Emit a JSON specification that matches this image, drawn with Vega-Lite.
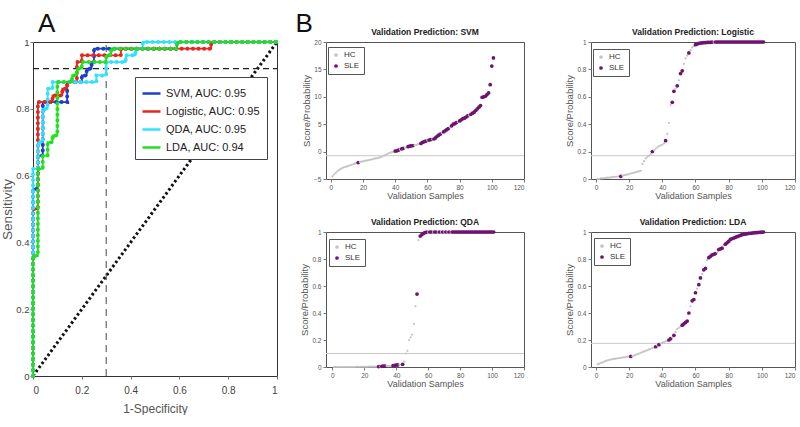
{
"$schema": "https://vega.github.io/schema/vega-lite/v6.json",
"background": "white",
"padding": {"left": 0, "top": 10, "right": 0, "bottom": 0},
"config": {
  "font": "Liberation Sans",
  "view": {"stroke": "#555", "strokeWidth": 1},
  "axis": {"grid": false, "domain": false, "ticks": true, "tickColor": "#777", "tickSize": 3, "labelColor": "#555", "titleColor": "#555", "labelFont": "Liberation Sans", "titleFont": "Liberation Sans", "labelFontSize": 6.5, "titleFontSize": 9, "titleFontWeight": "normal", "labelPadding": 2, "titlePadding": 1},
  "axisY": {"titleFontSize": 9.5, "titlePadding": 2},
  "title": {"font": "Liberation Sans", "fontSize": 8.5, "fontWeight": "bold", "color": "#222", "offset": 3}
},
"datasets": {
  "diag": [{"x": 0, "y": 0}, {"x": 1, "y": 1}],
  "hl": [{"x": 0, "y": 0.92}, {"x": 1, "y": 0.92}],
  "vl": [{"x": 0.3, "y": 0}, {"x": 0.3, "y": 1}],
  "roc": [
    {"m": "SVM, AUC: 0.95", "x": 0, "y": 0}, {"m": "SVM, AUC: 0.95", "x": 0, "y": 0.56}, {"m": "SVM, AUC: 0.95", "x": 0.02, "y": 0.56}, {"m": "SVM, AUC: 0.95", "x": 0.02, "y": 0.66}, {"m": "SVM, AUC: 0.95", "x": 0.04, "y": 0.66}, {"m": "SVM, AUC: 0.95", "x": 0.04, "y": 0.82}, {"m": "SVM, AUC: 0.95", "x": 0.14, "y": 0.82}, {"m": "SVM, AUC: 0.95", "x": 0.14, "y": 0.88}, {"m": "SVM, AUC: 0.95", "x": 0.2, "y": 0.88}, {"m": "SVM, AUC: 0.95", "x": 0.2, "y": 0.9}, {"m": "SVM, AUC: 0.95", "x": 0.22, "y": 0.9}, {"m": "SVM, AUC: 0.95", "x": 0.22, "y": 0.92}, {"m": "SVM, AUC: 0.95", "x": 0.24, "y": 0.92}, {"m": "SVM, AUC: 0.95", "x": 0.24, "y": 0.94}, {"m": "SVM, AUC: 0.95", "x": 0.25, "y": 0.94}, {"m": "SVM, AUC: 0.95", "x": 0.25, "y": 0.98}, {"m": "SVM, AUC: 0.95", "x": 0.59, "y": 0.98}, {"m": "SVM, AUC: 0.95", "x": 0.59, "y": 1}, {"m": "SVM, AUC: 0.95", "x": 1, "y": 1},
    {"m": "Logistic, AUC: 0.95", "x": 0, "y": 0}, {"m": "Logistic, AUC: 0.95", "x": 0, "y": 0.5}, {"m": "Logistic, AUC: 0.95", "x": 0.02, "y": 0.5}, {"m": "Logistic, AUC: 0.95", "x": 0.02, "y": 0.82}, {"m": "Logistic, AUC: 0.95", "x": 0.08, "y": 0.82}, {"m": "Logistic, AUC: 0.95", "x": 0.08, "y": 0.84}, {"m": "Logistic, AUC: 0.95", "x": 0.12, "y": 0.84}, {"m": "Logistic, AUC: 0.95", "x": 0.12, "y": 0.86}, {"m": "Logistic, AUC: 0.95", "x": 0.14, "y": 0.86}, {"m": "Logistic, AUC: 0.95", "x": 0.14, "y": 0.88}, {"m": "Logistic, AUC: 0.95", "x": 0.18, "y": 0.88}, {"m": "Logistic, AUC: 0.95", "x": 0.18, "y": 0.94}, {"m": "Logistic, AUC: 0.95", "x": 0.2, "y": 0.94}, {"m": "Logistic, AUC: 0.95", "x": 0.2, "y": 0.96}, {"m": "Logistic, AUC: 0.95", "x": 0.36, "y": 0.96}, {"m": "Logistic, AUC: 0.95", "x": 0.36, "y": 0.98}, {"m": "Logistic, AUC: 0.95", "x": 0.73, "y": 0.98}, {"m": "Logistic, AUC: 0.95", "x": 0.73, "y": 1}, {"m": "Logistic, AUC: 0.95", "x": 1, "y": 1},
    {"m": "QDA, AUC: 0.95", "x": 0, "y": 0}, {"m": "QDA, AUC: 0.95", "x": 0, "y": 0.62}, {"m": "QDA, AUC: 0.95", "x": 0.02, "y": 0.62}, {"m": "QDA, AUC: 0.95", "x": 0.02, "y": 0.7}, {"m": "QDA, AUC: 0.95", "x": 0.04, "y": 0.7}, {"m": "QDA, AUC: 0.95", "x": 0.04, "y": 0.8}, {"m": "QDA, AUC: 0.95", "x": 0.06, "y": 0.8}, {"m": "QDA, AUC: 0.95", "x": 0.06, "y": 0.86}, {"m": "QDA, AUC: 0.95", "x": 0.08, "y": 0.86}, {"m": "QDA, AUC: 0.95", "x": 0.08, "y": 0.88}, {"m": "QDA, AUC: 0.95", "x": 0.26, "y": 0.88}, {"m": "QDA, AUC: 0.95", "x": 0.26, "y": 0.9}, {"m": "QDA, AUC: 0.95", "x": 0.3, "y": 0.9}, {"m": "QDA, AUC: 0.95", "x": 0.3, "y": 0.94}, {"m": "QDA, AUC: 0.95", "x": 0.38, "y": 0.94}, {"m": "QDA, AUC: 0.95", "x": 0.38, "y": 0.96}, {"m": "QDA, AUC: 0.95", "x": 0.42, "y": 0.96}, {"m": "QDA, AUC: 0.95", "x": 0.42, "y": 0.98}, {"m": "QDA, AUC: 0.95", "x": 0.45, "y": 0.98}, {"m": "QDA, AUC: 0.95", "x": 0.45, "y": 1}, {"m": "QDA, AUC: 0.95", "x": 1, "y": 1},
    {"m": "LDA, AUC: 0.94", "x": 0, "y": 0}, {"m": "LDA, AUC: 0.94", "x": 0, "y": 0.36}, {"m": "LDA, AUC: 0.94", "x": 0.02, "y": 0.36}, {"m": "LDA, AUC: 0.94", "x": 0.02, "y": 0.62}, {"m": "LDA, AUC: 0.94", "x": 0.04, "y": 0.62}, {"m": "LDA, AUC: 0.94", "x": 0.04, "y": 0.66}, {"m": "LDA, AUC: 0.94", "x": 0.06, "y": 0.66}, {"m": "LDA, AUC: 0.94", "x": 0.06, "y": 0.7}, {"m": "LDA, AUC: 0.94", "x": 0.08, "y": 0.7}, {"m": "LDA, AUC: 0.94", "x": 0.08, "y": 0.72}, {"m": "LDA, AUC: 0.94", "x": 0.1, "y": 0.72}, {"m": "LDA, AUC: 0.94", "x": 0.1, "y": 0.88}, {"m": "LDA, AUC: 0.94", "x": 0.16, "y": 0.88}, {"m": "LDA, AUC: 0.94", "x": 0.16, "y": 0.9}, {"m": "LDA, AUC: 0.94", "x": 0.18, "y": 0.9}, {"m": "LDA, AUC: 0.94", "x": 0.18, "y": 0.92}, {"m": "LDA, AUC: 0.94", "x": 0.2, "y": 0.92}, {"m": "LDA, AUC: 0.94", "x": 0.2, "y": 0.94}, {"m": "LDA, AUC: 0.94", "x": 0.3, "y": 0.94}, {"m": "LDA, AUC: 0.94", "x": 0.3, "y": 0.96}, {"m": "LDA, AUC: 0.94", "x": 0.32, "y": 0.96}, {"m": "LDA, AUC: 0.94", "x": 0.32, "y": 0.98}, {"m": "LDA, AUC: 0.94", "x": 0.59, "y": 0.98}, {"m": "LDA, AUC: 0.94", "x": 0.59, "y": 1}, {"m": "LDA, AUC: 0.94", "x": 1, "y": 1}
  ],
  "svm": [
    {"i":1,"y":-4.5,"c":"HC"},{"i":2,"y":-4.2,"c":"HC"},{"i":3,"y":-3.9,"c":"HC"},{"i":4,"y":-3.6,"c":"HC"},{"i":5,"y":-3.4,"c":"HC"},{"i":6,"y":-3.2,"c":"HC"},{"i":7,"y":-3.0,"c":"HC"},{"i":8,"y":-2.9,"c":"HC"},{"i":9,"y":-2.8,"c":"HC"},{"i":10,"y":-2.7,"c":"HC"},
    {"i":11,"y":-2.6,"c":"HC"},{"i":12,"y":-2.5,"c":"HC"},{"i":13,"y":-2.4,"c":"HC"},{"i":14,"y":-2.3,"c":"HC"},{"i":15,"y":-2.2,"c":"HC"},{"i":16,"y":-2.1,"c":"HC"},{"i":17,"y":-2.0,"c":"SLE"},{"i":18,"y":-1.9,"c":"HC"},{"i":19,"y":-1.85,"c":"HC"},{"i":20,"y":-1.8,"c":"HC"},
    {"i":21,"y":-1.7,"c":"HC"},{"i":22,"y":-1.65,"c":"HC"},{"i":23,"y":-1.6,"c":"HC"},{"i":24,"y":-1.5,"c":"HC"},{"i":25,"y":-1.45,"c":"HC"},{"i":26,"y":-1.4,"c":"HC"},{"i":27,"y":-1.3,"c":"HC"},{"i":28,"y":-1.25,"c":"HC"},{"i":29,"y":-1.2,"c":"HC"},{"i":30,"y":-1.1,"c":"HC"},
    {"i":31,"y":-1.0,"c":"HC"},{"i":32,"y":-0.9,"c":"HC"},{"i":33,"y":-0.75,"c":"HC"},{"i":34,"y":-0.6,"c":"HC"},{"i":35,"y":-0.45,"c":"HC"},{"i":36,"y":-0.3,"c":"HC"},{"i":37,"y":-0.2,"c":"HC"},{"i":38,"y":-0.1,"c":"HC"},{"i":39,"y":0.0,"c":"HC"},{"i":40,"y":0.1,"c":"SLE"},
    {"i":41,"y":0.15,"c":"SLE"},{"i":42,"y":0.25,"c":"SLE"},{"i":43,"y":0.35,"c":"HC"},{"i":44,"y":0.5,"c":"SLE"},{"i":45,"y":0.6,"c":"SLE"},{"i":46,"y":0.7,"c":"HC"},{"i":47,"y":0.8,"c":"HC"},{"i":48,"y":0.9,"c":"SLE"},{"i":49,"y":1.0,"c":"SLE"},{"i":50,"y":1.05,"c":"SLE"},
    {"i":51,"y":1.1,"c":"SLE"},{"i":52,"y":1.15,"c":"HC"},{"i":53,"y":1.2,"c":"HC"},{"i":54,"y":1.3,"c":"HC"},{"i":55,"y":1.4,"c":"HC"},{"i":56,"y":1.5,"c":"SLE"},{"i":57,"y":1.7,"c":"SLE"},{"i":58,"y":1.8,"c":"SLE"},{"i":59,"y":1.9,"c":"SLE"},{"i":60,"y":2.0,"c":"HC"},
    {"i":61,"y":2.1,"c":"SLE"},{"i":62,"y":2.2,"c":"SLE"},{"i":63,"y":2.25,"c":"HC"},{"i":64,"y":2.3,"c":"SLE"},{"i":65,"y":2.5,"c":"SLE"},{"i":66,"y":2.8,"c":"SLE"},{"i":67,"y":3.0,"c":"SLE"},{"i":68,"y":3.2,"c":"SLE"},{"i":69,"y":3.4,"c":"HC"},{"i":70,"y":3.6,"c":"SLE"},
    {"i":71,"y":3.8,"c":"SLE"},{"i":72,"y":4.0,"c":"SLE"},{"i":73,"y":4.2,"c":"SLE"},{"i":74,"y":4.4,"c":"HC"},{"i":75,"y":4.7,"c":"SLE"},{"i":76,"y":5.0,"c":"SLE"},{"i":77,"y":5.1,"c":"SLE"},{"i":78,"y":5.3,"c":"SLE"},{"i":79,"y":5.4,"c":"HC"},{"i":80,"y":5.6,"c":"SLE"},
    {"i":81,"y":5.8,"c":"SLE"},{"i":82,"y":6.0,"c":"SLE"},{"i":83,"y":6.1,"c":"SLE"},{"i":84,"y":6.3,"c":"SLE"},{"i":85,"y":6.5,"c":"SLE"},{"i":86,"y":6.6,"c":"HC"},{"i":87,"y":6.8,"c":"SLE"},{"i":88,"y":7.0,"c":"SLE"},{"i":89,"y":7.2,"c":"SLE"},{"i":90,"y":7.5,"c":"SLE"},
    {"i":91,"y":7.8,"c":"SLE"},{"i":92,"y":8.1,"c":"SLE"},{"i":93,"y":8.4,"c":"SLE"},{"i":94,"y":9.9,"c":"SLE"},{"i":95,"y":10.0,"c":"SLE"},{"i":96,"y":10.1,"c":"SLE"},{"i":97,"y":10.4,"c":"SLE"},{"i":98,"y":10.7,"c":"SLE"},{"i":99,"y":12.2,"c":"SLE"},{"i":100,"y":15.6,"c":"SLE"},
    {"i":101,"y":17.1,"c":"SLE"}
  ],
  "log": [
    {"i":1,"y":0.0,"c":"HC"},{"i":2,"y":0.0,"c":"HC"},{"i":3,"y":0.005,"c":"HC"},{"i":4,"y":0.005,"c":"HC"},{"i":5,"y":0.007,"c":"HC"},{"i":6,"y":0.008,"c":"HC"},{"i":7,"y":0.01,"c":"HC"},{"i":8,"y":0.01,"c":"HC"},{"i":9,"y":0.012,"c":"HC"},{"i":10,"y":0.013,"c":"HC"},
    {"i":11,"y":0.015,"c":"HC"},{"i":12,"y":0.016,"c":"HC"},{"i":13,"y":0.018,"c":"HC"},{"i":14,"y":0.02,"c":"HC"},{"i":15,"y":0.02,"c":"SLE"},{"i":16,"y":0.025,"c":"HC"},{"i":17,"y":0.028,"c":"HC"},{"i":18,"y":0.03,"c":"HC"},{"i":19,"y":0.033,"c":"HC"},{"i":20,"y":0.036,"c":"HC"},
    {"i":21,"y":0.04,"c":"HC"},{"i":22,"y":0.043,"c":"HC"},{"i":23,"y":0.046,"c":"HC"},{"i":24,"y":0.05,"c":"HC"},{"i":25,"y":0.053,"c":"HC"},{"i":26,"y":0.056,"c":"HC"},{"i":27,"y":0.06,"c":"HC"},{"i":28,"y":0.11,"c":"HC"},{"i":29,"y":0.13,"c":"HC"},{"i":30,"y":0.15,"c":"HC"},
    {"i":31,"y":0.16,"c":"HC"},{"i":32,"y":0.17,"c":"HC"},{"i":33,"y":0.18,"c":"HC"},{"i":34,"y":0.2,"c":"SLE"},{"i":35,"y":0.21,"c":"HC"},{"i":36,"y":0.22,"c":"HC"},{"i":37,"y":0.23,"c":"HC"},{"i":38,"y":0.24,"c":"HC"},{"i":39,"y":0.245,"c":"HC"},{"i":40,"y":0.25,"c":"HC"},
    {"i":41,"y":0.26,"c":"HC"},{"i":42,"y":0.28,"c":"SLE"},{"i":43,"y":0.33,"c":"HC"},{"i":44,"y":0.41,"c":"HC"},{"i":45,"y":0.54,"c":"HC"},{"i":46,"y":0.56,"c":"SLE"},{"i":47,"y":0.64,"c":"SLE"},{"i":48,"y":0.66,"c":"HC"},{"i":49,"y":0.68,"c":"SLE"},{"i":50,"y":0.72,"c":"HC"},
    {"i":51,"y":0.77,"c":"SLE"},{"i":52,"y":0.79,"c":"SLE"},{"i":53,"y":0.84,"c":"HC"},{"i":54,"y":0.88,"c":"HC"},{"i":55,"y":0.9,"c":"HC"},{"i":56,"y":0.92,"c":"SLE"},{"i":57,"y":0.94,"c":"HC"},{"i":58,"y":0.96,"c":"HC"},{"i":59,"y":0.97,"c":"HC"},{"i":60,"y":0.98,"c":"SLE"},
    {"i":61,"y":0.985,"c":"SLE"},{"i":62,"y":0.99,"c":"SLE"},{"i":63,"y":0.992,"c":"SLE"},{"i":64,"y":0.994,"c":"SLE"},{"i":65,"y":0.995,"c":"SLE"},{"i":66,"y":0.996,"c":"SLE"},{"i":67,"y":0.997,"c":"SLE"},{"i":68,"y":0.998,"c":"SLE"},{"i":69,"y":0.998,"c":"SLE"},{"i":70,"y":0.999,"c":"SLE"},
    {"i":71,"y":0.999,"c":"HC"},{"i":72,"y":1,"c":"SLE"},{"i":73,"y":1,"c":"SLE"},{"i":74,"y":1,"c":"SLE"},{"i":75,"y":1,"c":"SLE"},{"i":76,"y":1,"c":"SLE"},{"i":77,"y":1,"c":"SLE"},{"i":78,"y":1,"c":"SLE"},{"i":79,"y":1,"c":"SLE"},{"i":80,"y":1,"c":"SLE"},
    {"i":81,"y":1,"c":"SLE"},{"i":82,"y":1,"c":"SLE"},{"i":83,"y":1,"c":"SLE"},{"i":84,"y":1,"c":"SLE"},{"i":85,"y":1,"c":"SLE"},{"i":86,"y":1,"c":"SLE"},{"i":87,"y":1,"c":"SLE"},{"i":88,"y":1,"c":"SLE"},{"i":89,"y":1,"c":"SLE"},{"i":90,"y":1,"c":"SLE"},
    {"i":91,"y":1,"c":"SLE"},{"i":92,"y":1,"c":"SLE"},{"i":93,"y":1,"c":"SLE"},{"i":94,"y":1,"c":"SLE"},{"i":95,"y":1,"c":"SLE"},{"i":96,"y":1,"c":"SLE"},{"i":97,"y":1,"c":"SLE"},{"i":98,"y":1,"c":"SLE"},{"i":99,"y":1,"c":"SLE"},{"i":100,"y":1,"c":"SLE"},
    {"i":101,"y":1,"c":"SLE"}
  ],
  "qda": [
    {"i":1,"y":0.0,"c":"HC"},{"i":2,"y":0.0,"c":"HC"},{"i":3,"y":0.0,"c":"HC"},{"i":4,"y":0.0,"c":"HC"},{"i":5,"y":0.0,"c":"HC"},{"i":6,"y":0.0,"c":"HC"},{"i":7,"y":0.0,"c":"HC"},{"i":8,"y":0.0,"c":"HC"},{"i":9,"y":0.0,"c":"HC"},{"i":10,"y":0.0,"c":"HC"},
    {"i":11,"y":0.0,"c":"HC"},{"i":12,"y":0.0,"c":"HC"},{"i":13,"y":0.0,"c":"HC"},{"i":14,"y":0.0,"c":"HC"},{"i":15,"y":0.001,"c":"HC"},{"i":16,"y":0.001,"c":"HC"},{"i":17,"y":0.001,"c":"HC"},{"i":18,"y":0.001,"c":"HC"},{"i":19,"y":0.001,"c":"HC"},{"i":20,"y":0.001,"c":"HC"},
    {"i":21,"y":0.001,"c":"HC"},{"i":22,"y":0.001,"c":"HC"},{"i":23,"y":0.002,"c":"HC"},{"i":24,"y":0.002,"c":"HC"},{"i":25,"y":0.002,"c":"HC"},{"i":26,"y":0.002,"c":"HC"},{"i":27,"y":0.002,"c":"HC"},{"i":28,"y":0.002,"c":"HC"},{"i":29,"y":0.003,"c":"SLE"},{"i":30,"y":0.003,"c":"HC"},
    {"i":31,"y":0.005,"c":"SLE"},{"i":32,"y":0.006,"c":"SLE"},{"i":33,"y":0.007,"c":"SLE"},{"i":34,"y":0.008,"c":"HC"},{"i":35,"y":0.008,"c":"HC"},{"i":36,"y":0.008,"c":"HC"},{"i":37,"y":0.009,"c":"HC"},{"i":38,"y":0.01,"c":"SLE"},{"i":39,"y":0.012,"c":"SLE"},{"i":40,"y":0.013,"c":"SLE"},
    {"i":41,"y":0.015,"c":"SLE"},{"i":42,"y":0.016,"c":"HC"},{"i":43,"y":0.018,"c":"HC"},{"i":44,"y":0.02,"c":"SLE"},{"i":45,"y":0.04,"c":"HC"},{"i":46,"y":0.1,"c":"HC"},{"i":47,"y":0.12,"c":"HC"},{"i":48,"y":0.2,"c":"HC"},{"i":49,"y":0.22,"c":"HC"},{"i":50,"y":0.24,"c":"HC"},
    {"i":51,"y":0.32,"c":"HC"},{"i":52,"y":0.45,"c":"HC"},{"i":53,"y":0.54,"c":"SLE"},{"i":54,"y":0.94,"c":"HC"},{"i":55,"y":0.97,"c":"SLE"},{"i":56,"y":0.98,"c":"SLE"},{"i":57,"y":0.99,"c":"SLE"},{"i":58,"y":0.995,"c":"SLE"},{"i":59,"y":1,"c":"SLE"},{"i":60,"y":1,"c":"HC"},
    {"i":61,"y":1,"c":"SLE"},{"i":62,"y":1,"c":"SLE"},{"i":63,"y":1,"c":"HC"},{"i":64,"y":1,"c":"SLE"},{"i":65,"y":1,"c":"SLE"},{"i":66,"y":1,"c":"HC"},{"i":67,"y":1,"c":"SLE"},{"i":68,"y":1,"c":"HC"},{"i":69,"y":1,"c":"SLE"},{"i":70,"y":1,"c":"HC"},
    {"i":71,"y":1,"c":"SLE"},{"i":72,"y":1,"c":"HC"},{"i":73,"y":1,"c":"SLE"},{"i":74,"y":1,"c":"HC"},{"i":75,"y":1,"c":"SLE"},{"i":76,"y":1,"c":"SLE"},{"i":77,"y":1,"c":"SLE"},{"i":78,"y":1,"c":"SLE"},{"i":79,"y":1,"c":"SLE"},{"i":80,"y":1,"c":"SLE"},
    {"i":81,"y":1,"c":"SLE"},{"i":82,"y":1,"c":"SLE"},{"i":83,"y":1,"c":"SLE"},{"i":84,"y":1,"c":"SLE"},{"i":85,"y":1,"c":"SLE"},{"i":86,"y":1,"c":"SLE"},{"i":87,"y":1,"c":"SLE"},{"i":88,"y":1,"c":"SLE"},{"i":89,"y":1,"c":"SLE"},{"i":90,"y":1,"c":"SLE"},
    {"i":91,"y":1,"c":"SLE"},{"i":92,"y":1,"c":"SLE"},{"i":93,"y":1,"c":"SLE"},{"i":94,"y":1,"c":"SLE"},{"i":95,"y":1,"c":"SLE"},{"i":96,"y":1,"c":"SLE"},{"i":97,"y":1,"c":"SLE"},{"i":98,"y":1,"c":"SLE"},{"i":99,"y":1,"c":"SLE"},{"i":100,"y":1,"c":"SLE"},
    {"i":101,"y":1,"c":"SLE"}
  ],
  "lda": [
    {"i":1,"y":0.02,"c":"HC"},{"i":2,"y":0.025,"c":"HC"},{"i":3,"y":0.03,"c":"HC"},{"i":4,"y":0.035,"c":"HC"},{"i":5,"y":0.04,"c":"HC"},{"i":6,"y":0.045,"c":"HC"},{"i":7,"y":0.05,"c":"HC"},{"i":8,"y":0.052,"c":"HC"},{"i":9,"y":0.055,"c":"HC"},{"i":10,"y":0.058,"c":"HC"},
    {"i":11,"y":0.06,"c":"HC"},{"i":12,"y":0.062,"c":"HC"},{"i":13,"y":0.064,"c":"HC"},{"i":14,"y":0.066,"c":"HC"},{"i":15,"y":0.068,"c":"HC"},{"i":16,"y":0.07,"c":"HC"},{"i":17,"y":0.072,"c":"HC"},{"i":18,"y":0.074,"c":"HC"},{"i":19,"y":0.076,"c":"HC"},{"i":20,"y":0.077,"c":"HC"},
    {"i":21,"y":0.078,"c":"SLE"},{"i":22,"y":0.08,"c":"HC"},{"i":23,"y":0.085,"c":"HC"},{"i":24,"y":0.09,"c":"HC"},{"i":25,"y":0.095,"c":"HC"},{"i":26,"y":0.1,"c":"HC"},{"i":27,"y":0.105,"c":"HC"},{"i":28,"y":0.11,"c":"HC"},{"i":29,"y":0.115,"c":"HC"},{"i":30,"y":0.12,"c":"HC"},
    {"i":31,"y":0.125,"c":"HC"},{"i":32,"y":0.13,"c":"HC"},{"i":33,"y":0.135,"c":"HC"},{"i":34,"y":0.14,"c":"HC"},{"i":35,"y":0.145,"c":"HC"},{"i":36,"y":0.15,"c":"SLE"},{"i":37,"y":0.16,"c":"HC"},{"i":38,"y":0.165,"c":"SLE"},{"i":39,"y":0.175,"c":"HC"},{"i":40,"y":0.18,"c":"HC"},
    {"i":41,"y":0.185,"c":"HC"},{"i":42,"y":0.19,"c":"HC"},{"i":43,"y":0.195,"c":"HC"},{"i":44,"y":0.2,"c":"SLE"},{"i":45,"y":0.21,"c":"SLE"},{"i":46,"y":0.22,"c":"HC"},{"i":47,"y":0.235,"c":"SLE"},{"i":48,"y":0.26,"c":"HC"},{"i":49,"y":0.28,"c":"HC"},{"i":50,"y":0.29,"c":"HC"},
    {"i":51,"y":0.3,"c":"HC"},{"i":52,"y":0.31,"c":"SLE"},{"i":53,"y":0.32,"c":"SLE"},{"i":54,"y":0.33,"c":"SLE"},{"i":55,"y":0.34,"c":"SLE"},{"i":56,"y":0.4,"c":"SLE"},{"i":57,"y":0.45,"c":"HC"},{"i":58,"y":0.49,"c":"SLE"},{"i":59,"y":0.5,"c":"SLE"},{"i":60,"y":0.55,"c":"SLE"},
    {"i":61,"y":0.58,"c":"HC"},{"i":62,"y":0.61,"c":"SLE"},{"i":63,"y":0.66,"c":"SLE"},{"i":64,"y":0.69,"c":"HC"},{"i":65,"y":0.72,"c":"SLE"},{"i":66,"y":0.73,"c":"SLE"},{"i":67,"y":0.79,"c":"HC"},{"i":68,"y":0.81,"c":"SLE"},{"i":69,"y":0.82,"c":"SLE"},{"i":70,"y":0.83,"c":"SLE"},
    {"i":71,"y":0.835,"c":"SLE"},{"i":72,"y":0.84,"c":"SLE"},{"i":73,"y":0.85,"c":"HC"},{"i":74,"y":0.87,"c":"SLE"},{"i":75,"y":0.875,"c":"SLE"},{"i":76,"y":0.88,"c":"SLE"},{"i":77,"y":0.9,"c":"HC"},{"i":78,"y":0.91,"c":"SLE"},{"i":79,"y":0.92,"c":"SLE"},{"i":80,"y":0.93,"c":"SLE"},
    {"i":81,"y":0.945,"c":"SLE"},{"i":82,"y":0.95,"c":"SLE"},{"i":83,"y":0.955,"c":"SLE"},{"i":84,"y":0.96,"c":"SLE"},{"i":85,"y":0.965,"c":"SLE"},{"i":86,"y":0.97,"c":"SLE"},{"i":87,"y":0.975,"c":"SLE"},{"i":88,"y":0.98,"c":"SLE"},{"i":89,"y":0.983,"c":"SLE"},{"i":90,"y":0.985,"c":"SLE"},
    {"i":91,"y":0.987,"c":"SLE"},{"i":92,"y":0.99,"c":"SLE"},{"i":93,"y":0.99,"c":"SLE"},{"i":94,"y":0.992,"c":"SLE"},{"i":95,"y":0.994,"c":"SLE"},{"i":96,"y":0.995,"c":"SLE"},{"i":97,"y":0.996,"c":"SLE"},{"i":98,"y":0.997,"c":"SLE"},{"i":99,"y":0.998,"c":"SLE"},{"i":100,"y":0.999,"c":"SLE"},
    {"i":101,"y":1.0,"c":"SLE"}
  ]
},
"hconcat": [
  {
    "title": {"text": "A", "font": "Liberation Sans", "fontSize": 26, "fontWeight": "normal", "color": "#111", "anchor": "start", "frame": "group", "dx": 5, "offset": -3},
    "width": 244, "height": 334,
    "view": {"stroke": "#333"},
    "encoding": {
      "x": {"field": "x", "type": "quantitative", "scale": {"domain": [0, 1], "nice": false}, "axis": {"title": "1-Specificity", "values": [0, 0.2, 0.4, 0.6, 0.8, 1], "format": "~g", "labelFontSize": 10, "titleFontSize": 12, "labelPadding": 6, "titlePadding": 8, "labelColor": "#444", "titleColor": "#555"}},
      "y": {"field": "y", "type": "quantitative", "scale": {"domain": [0, 1], "nice": false}, "axis": {"title": "Sensitivity", "values": [0, 0.2, 0.4, 0.6, 0.8, 1], "format": "~g", "labelFontSize": 9.5, "titleFontSize": 13.5, "labelPadding": 1, "titlePadding": 1, "labelColor": "#444", "titleColor": "#555"}}
    },
    "layer": [
      {"data": {"name": "diag"}, "mark": {"type": "line", "color": "#111", "strokeWidth": 3, "strokeDash": [2.5, 2.5]}},
      {"data": {"name": "hl"}, "mark": {"type": "line", "color": "#222", "strokeWidth": 1.2, "strokeDash": [6, 4]}},
      {"data": {"name": "vl"}, "mark": {"type": "line", "color": "#444", "strokeWidth": 1, "strokeDash": [7, 5]}},
      {"data": {"name": "roc"}, "mark": {"type": "line", "strokeWidth": 1.8},
       "encoding": {"order": {"value": null},
         "color": {"field": "m", "type": "nominal", "scale": {"domain": ["SVM, AUC: 0.95", "Logistic, AUC: 0.95", "QDA, AUC: 0.95", "LDA, AUC: 0.94"], "range": ["#1c3fc8", "#e8261e", "#33e0ff", "#22e022"]},
           "legend": {"orient": "none", "legendX": 102, "legendY": 35, "title": null, "strokeColor": "#444", "fillColor": "white", "padding": 6, "labelFontSize": 11, "labelFont": "Liberation Sans", "labelColor": "#222", "symbolType": "stroke", "symbolStrokeWidth": 2.5, "symbolSize": 324, "rowPadding": 2, "labelOffset": 4}}}},
      {"data": {"name": "roc"}, "mark": {"type": "line", "strokeWidth": 4, "strokeDash": [0.1, 5.5], "strokeCap": "round"},
       "encoding": {"order": {"value": null},
         "color": {"field": "m", "type": "nominal"}}}
    ]
  },
  {
    "title": {"text": "B", "font": "Liberation Sans", "fontSize": 26, "fontWeight": "normal", "color": "#111", "anchor": "start", "dx": -4, "dy": 6, "offset": -4},
    "spacing": 16,
    "resolve": {"scale": {"color": "independent"}, "legend": {"color": "independent"}},
    "vconcat": [
      {
        "spacing": 39,
        "resolve": {"scale": {"color": "independent"}, "legend": {"color": "independent"}},
        "hconcat": [
          {
            "width": 198, "height": 137,
            "title": "Validation Prediction: SVM",
            "encoding": {"y": {"field": "y", "type": "quantitative", "scale": {"domain": [-5, 20], "nice": false, "zero": false}, "axis": {"title": "Score/Probability", "values": [-5, 0, 5, 10, 15, 20]}}},
            "layer": [
              {"data": {"values": [{"y": -0.75}]}, "mark": {"type": "rule", "color": "#c8c8c8", "strokeWidth": 1}},
              {"data": {"name": "svm"}, "mark": {"type": "circle", "opacity": 1},
               "encoding": {
                 "x": {"field": "i", "type": "quantitative", "scale": {"domain": [-3, 120], "nice": false, "zero": false}, "axis": {"title": "Validation Samples", "values": [0, 20, 40, 60, 80, 100, 120]}},
                 "color": {"field": "c", "type": "nominal", "scale": {"domain": ["HC", "SLE"], "range": ["#c4c4c4", "#6e1470"]}, "legend": {"orient": "none", "legendX": 2, "legendY": 5, "title": null, "strokeColor": "#555", "fillColor": "white", "padding": 4, "labelFontSize": 8, "labelFont": "Liberation Sans", "labelColor": "#333", "symbolSize": 14, "symbolType": "circle", "rowPadding": 3}},
                 "size": {"condition": {"test": "datum.c === 'SLE'", "value": 14}, "value": 5}
               }}
            ]
          },
          {
            "width": 204, "height": 137,
            "title": "Validation Prediction: Logistic",
            "encoding": {"y": {"field": "y", "type": "quantitative", "scale": {"domain": [0, 1], "nice": false}, "axis": {"title": "Score/Probability", "values": [0, 0.2, 0.4, 0.6, 0.8, 1], "format": "~g"}}},
            "layer": [
              {"data": {"values": [{"y": 0.17}]}, "mark": {"type": "rule", "color": "#c8c8c8", "strokeWidth": 1}},
              {"data": {"name": "log"}, "mark": {"type": "circle", "opacity": 1},
               "encoding": {
                 "x": {"field": "i", "type": "quantitative", "scale": {"domain": [-3, 120], "nice": false, "zero": false}, "axis": {"title": "Validation Samples", "values": [0, 20, 40, 60, 80, 100, 120], "labelFlush": true}},
                 "color": {"field": "c", "type": "nominal", "scale": {"domain": ["HC", "SLE"], "range": ["#c4c4c4", "#6e1470"]}, "legend": {"orient": "none", "legendX": 2, "legendY": 7, "title": null, "strokeColor": "#555", "fillColor": "white", "padding": 4, "labelFontSize": 8, "labelFont": "Liberation Sans", "labelColor": "#333", "symbolSize": 14, "symbolType": "circle", "rowPadding": 3}},
                 "size": {"condition": {"test": "datum.c === 'SLE'", "value": 14}, "value": 5}
               }}
            ]
          }
        ]
      },
      {
        "spacing": 39,
        "resolve": {"scale": {"color": "independent"}, "legend": {"color": "independent"}},
        "hconcat": [
          {
            "width": 198, "height": 135,
            "title": "Validation Prediction: QDA",
            "encoding": {"y": {"field": "y", "type": "quantitative", "scale": {"domain": [0, 1], "nice": false}, "axis": {"title": "Score/Probability", "values": [0, 0.2, 0.4, 0.6, 0.8, 1], "format": "~g"}}},
            "layer": [
              {"data": {"values": [{"y": 0.1}]}, "mark": {"type": "rule", "color": "#c8c8c8", "strokeWidth": 1}},
              {"data": {"name": "qda"}, "mark": {"type": "circle", "opacity": 1},
               "encoding": {
                 "x": {"field": "i", "type": "quantitative", "scale": {"domain": [-4, 120], "nice": false, "zero": false}, "axis": {"title": "Validation Samples", "values": [0, 20, 40, 60, 80, 100, 120]}},
                 "color": {"field": "c", "type": "nominal", "scale": {"domain": ["HC", "SLE"], "range": ["#c4c4c4", "#6e1470"]}, "legend": {"orient": "none", "legendX": 3, "legendY": 7, "title": null, "strokeColor": "#555", "fillColor": "white", "padding": 4, "labelFontSize": 8, "labelFont": "Liberation Sans", "labelColor": "#333", "symbolSize": 14, "symbolType": "circle", "rowPadding": 3}},
                 "size": {"condition": {"test": "datum.c === 'SLE'", "value": 14}, "value": 5}
               }}
            ]
          },
          {
            "width": 204, "height": 135,
            "title": "Validation Prediction: LDA",
            "encoding": {"y": {"field": "y", "type": "quantitative", "scale": {"domain": [0, 1], "nice": false}, "axis": {"title": "Score/Probability", "values": [0, 0.2, 0.4, 0.6, 0.8, 1], "format": "~g"}}},
            "layer": [
              {"data": {"values": [{"y": 0.175}]}, "mark": {"type": "rule", "color": "#c8c8c8", "strokeWidth": 1}},
              {"data": {"name": "lda"}, "mark": {"type": "circle", "opacity": 1},
               "encoding": {
                 "x": {"field": "i", "type": "quantitative", "scale": {"domain": [-3, 120], "nice": false, "zero": false}, "axis": {"title": "Validation Samples", "values": [0, 20, 40, 60, 80, 100, 120], "labelFlush": true}},
                 "color": {"field": "c", "type": "nominal", "scale": {"domain": ["HC", "SLE"], "range": ["#c4c4c4", "#6e1470"]}, "legend": {"orient": "none", "legendX": 3, "legendY": 6, "title": null, "strokeColor": "#555", "fillColor": "white", "padding": 4, "labelFontSize": 8, "labelFont": "Liberation Sans", "labelColor": "#333", "symbolSize": 14, "symbolType": "circle", "rowPadding": 3}},
                 "size": {"condition": {"test": "datum.c === 'SLE'", "value": 14}, "value": 5}
               }}
            ]
          }
        ]
      }
    ]
  }
],
"spacing": 9,
"resolve": {"scale": {"color": "independent"}, "legend": {"color": "independent"}}
}
